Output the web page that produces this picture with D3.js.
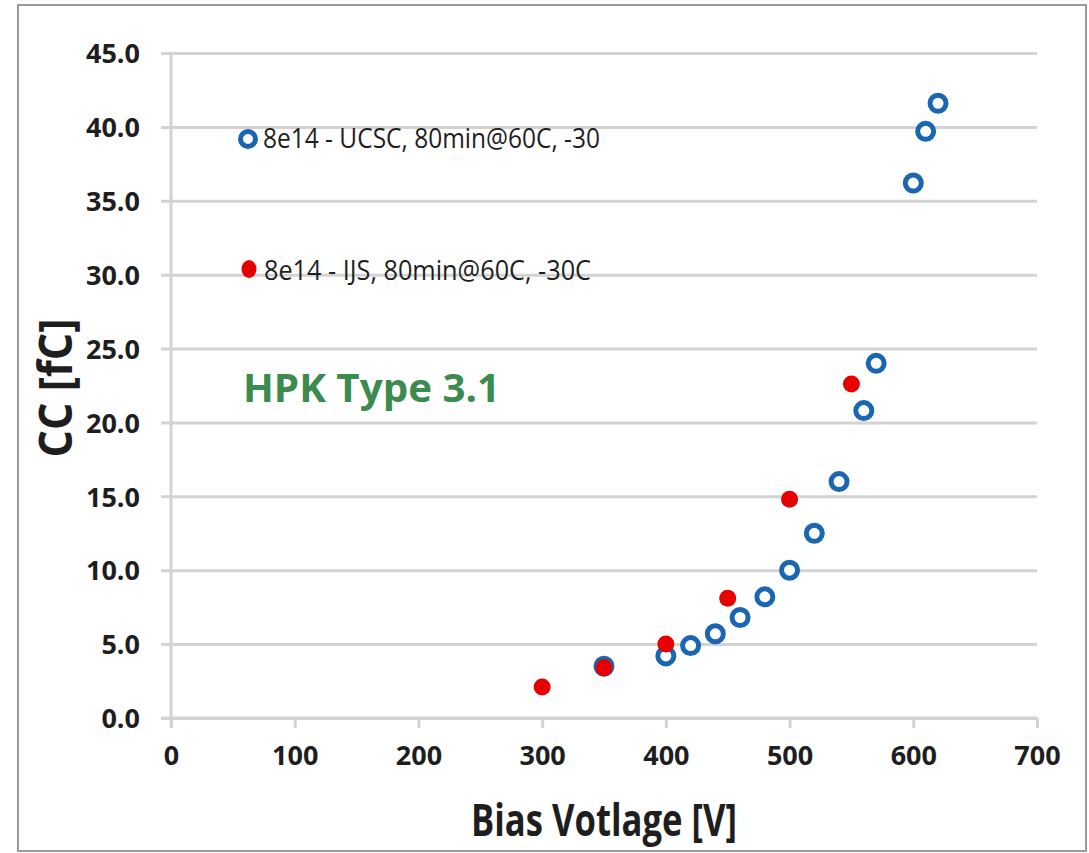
<!DOCTYPE html>
<html>
<head>
<meta charset="utf-8">
<script src="https://cdn.jsdelivr.net/npm/d3@7"></script>
<style>
  html, body { margin: 0; padding: 0; background: #fff; }
  svg { display: block; font-family: "Open Sans", Arial, sans-serif; }
</style>
</head>
<body>
<div id="chart"></div>
<script>
// data
const ucscVoltage = [350, 400, 420, 440, 460, 480, 500, 520, 540, 560, 570, 600, 610, 620];
const ucscCharge = [3.5, 4.2, 4.9, 5.7, 6.8, 8.2, 10.0, 12.5, 16.0, 20.8, 24.0, 36.2, 39.7, 41.6];
const ijsVoltage = [300, 350, 400, 450, 500, 550];
const ijsCharge = [2.1, 3.4, 5.0, 8.1, 14.8, 22.6];
const xTicks = [0, 100, 200, 300, 400, 500, 600, 700];
const yTicks = [0, 5, 10, 15, 20, 25, 30, 35, 40, 45];
const seriesLabels = ["8e14 - UCSC, 80min@60C, -30", "8e14 -  IJS, 80min@60C, -30C"];

const W = 1089, H = 853;
const margin = { top: 53, right: 52, bottom: 135, left: 171 };
const innerW = W - margin.left - margin.right;
const innerH = H - margin.top - margin.bottom;

const blue = "#1a66b0", red = "#e60000", grid = "#d3d3d3", ink = "#1e1e1e";
const font = '"Open Sans", Arial, sans-serif';

const svg = d3.select("#chart").append("svg")
    .attr("width", W)
    .attr("height", H);

// outer frame
svg.append("rect")
    .attr("x", 18).attr("y", 5)
    .attr("width", 1068).attr("height", 846)
    .attr("fill", "#fff")
    .attr("stroke", "#9a9a9a")
    .attr("stroke-width", 2);

const g = svg.append("g")
    .attr("transform", `translate(${margin.left},${margin.top})`);

const x = d3.scaleLinear().domain([0, 700]).range([0, innerW]);
const y = d3.scaleLinear().domain([0, 45]).range([innerH, 0]);

// horizontal gridlines with left tick stubs + labels
const yAxis = g.append("g")
    .call(d3.axisLeft(y).tickValues(yTicks).tickFormat(d3.format(".1f"))
        .tickSize(-innerW).tickPadding(20));
yAxis.attr("font-family", null);
yAxis.select(".domain").remove();
yAxis.selectAll(".tick line")
    .attr("x1", -10)
    .attr("stroke", grid)
    .attr("stroke-width", 3);
yAxis.selectAll(".tick text")
    .attr("x", -31)
    .attr("dy", "0.36em")
    .attr("fill", ink)
    .style("font-family", font)
    .style("font-size", "27px")
    .style("font-weight", 700);

// vertical axis line
g.append("line")
    .attr("x1", 0).attr("x2", 0)
    .attr("y1", 2).attr("y2", innerH + 10)
    .attr("stroke", grid)
    .attr("stroke-width", 3);

// x axis
const xAxis = g.append("g")
    .attr("transform", `translate(0,${innerH})`)
    .call(d3.axisBottom(x).tickValues(xTicks).tickSize(10).tickPadding(18));
xAxis.attr("font-family", null);
xAxis.select(".domain")
    .attr("d", `M-10,0H${innerW}`)
    .attr("stroke", grid)
    .attr("stroke-width", 3);
xAxis.selectAll(".tick line")
    .attr("stroke", grid)
    .attr("stroke-width", 3);
xAxis.selectAll(".tick text")
    .attr("fill", ink)
    .style("font-family", font)
    .style("font-size", "27px")
    .style("font-weight", 700);

// axis titles
svg.append("text")
    .attr("x", 604).attr("y", 836)
    .attr("text-anchor", "middle")
    .attr("fill", ink)
    .attr("textLength", 266)
    .attr("lengthAdjust", "spacingAndGlyphs")
    .style("font-size", "44px")
    .style("font-weight", 700)
    .text("Bias Votlage [V]");

svg.append("text")
    .attr("transform", "translate(72,388) rotate(-90)")
    .attr("text-anchor", "middle")
    .attr("fill", ink)
    .attr("textLength", 139)
    .attr("lengthAdjust", "spacingAndGlyphs")
    .style("font-size", "46px")
    .style("font-weight", 700)
    .text("CC [fC]");

// annotation
svg.append("text")
    .attr("x", 243).attr("y", 402)
    .attr("fill", "#3b8a4e")
    .attr("textLength", 257)
    .attr("lengthAdjust", "spacingAndGlyphs")
    .style("font-size", "40px")
    .style("font-weight", 700)
    .text("HPK Type 3.1");

// UCSC: open blue circles
g.append("g").selectAll("circle")
    .data(d3.zip(ucscVoltage, ucscCharge))
    .join("circle")
    .attr("cx", d => x(d[0]))
    .attr("cy", d => y(d[1]))
    .attr("r", 8)
    .attr("fill", "#fff")
    .attr("stroke", blue)
    .attr("stroke-width", 5);

// IJS: filled red dots
g.append("g").selectAll("circle")
    .data(d3.zip(ijsVoltage, ijsCharge))
    .join("circle")
    .attr("cx", d => x(d[0]))
    .attr("cy", d => y(d[1]))
    .attr("r", 8.5)
    .attr("fill", red);

// legend
const legend = svg.append("g");
legend.append("circle")
    .attr("cx", 248).attr("cy", 139).attr("r", 7.5)
    .attr("fill", "#fff").attr("stroke", blue).attr("stroke-width", 5);
legend.append("text")
    .attr("x", 263).attr("y", 148)
    .attr("fill", ink)
    .attr("textLength", 337)
    .attr("lengthAdjust", "spacingAndGlyphs")
    .style("font-size", "27px")
    .text(seriesLabels[0]);
legend.append("ellipse")
    .attr("cx", 249).attr("cy", 269).attr("rx", 7.5).attr("ry", 9)
    .attr("fill", red);
legend.append("text")
    .attr("x", 264).attr("y", 280)
    .attr("fill", ink)
    .attr("textLength", 327)
    .attr("lengthAdjust", "spacingAndGlyphs")
    .style("font-size", "27px")
    .text(seriesLabels[1]);
</script>
</body>
</html>
